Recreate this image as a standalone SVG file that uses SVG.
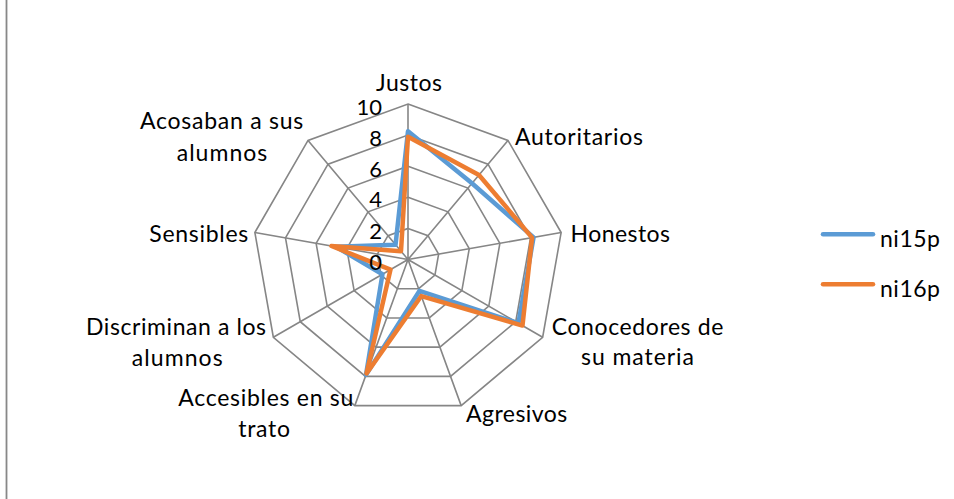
<svg xmlns="http://www.w3.org/2000/svg" xmlns:xlink="http://www.w3.org/1999/xlink" width="954" height="499" viewBox="0 0 954 499">
<style>
  .lbl { font-family: Lato, "Liberation Sans", sans-serif; font-size: 23px; fill: #000; }
  .num { font-family: Lato, "Liberation Sans", sans-serif; font-size: 22px; fill: #000; text-anchor: end; }
  .grid { fill: none; stroke: #868686; stroke-width: 1.6; vector-effect: non-scaling-stroke; }
  .s1 { fill: none; stroke: #5B9BD5; stroke-width: 4.5; stroke-linejoin: round; stroke-linecap: round; }
  .s2 { fill: none; stroke: #ED7D31; stroke-width: 4.5; stroke-linejoin: round; stroke-linecap: round; }
</style>
<defs>
  <polygon id="ring" class="grid" points="0,-155.5 99.96,-119.11 153.14,-27 134.66,77.75 53.18,146.12 -53.18,146.12 -134.66,77.75 -153.14,-27 -99.96,-119.11"/>
</defs>
<rect x="0" y="0" width="954" height="499" fill="#fff"/>
<line x1="6.5" y1="0" x2="6.5" y2="499" stroke="#888" stroke-width="1.8"/>

<g id="grid" transform="translate(408,259.5)">
  <use xlink:href="#ring"/>
  <use xlink:href="#ring" transform="scale(0.8)"/>
  <use xlink:href="#ring" transform="scale(0.6)"/>
  <use xlink:href="#ring" transform="scale(0.4)"/>
  <use xlink:href="#ring" transform="scale(0.2)"/>
  <path class="grid" d="M0,0 L0,-155.5 M0,0 L99.96,-119.11 M0,0 L153.14,-27 M0,0 L134.66,77.75 M0,0 L53.18,146.12 M0,0 L-53.18,146.12 M0,0 L-134.66,77.75 M0,0 L-153.14,-27 M0,0 L-99.96,-119.11"/>
</g>

<g id="connectors" transform="translate(408,259.5)">
  <polygon id="ni15p" class="s1" points="0,-128.3 63.96,-76.22 125.56,-22.13 110.42,63.75 11.42,31.39 -42,115.4 -25.55,14.75 -71.99,-12.69 -12.47,-14.86"/>
  <polygon id="ni16p" class="s2" points="0,-122.8 70.97,-84.57 124.08,-21.87 114.49,66.1 13.3,36.55 -41.48,113.98 -17.49,10.1 -76.57,-13.5 -7,-8.35"/>
</g>

<g id="scale">
  <text class="num" x="382" y="115">10</text>
  <text class="num" x="382" y="145.5">8</text>
  <text class="num" x="382" y="176.5">6</text>
  <text class="num" x="382" y="207">4</text>
  <text class="num" x="382" y="238.5">2</text>
  <text class="num" x="382" y="270">0</text>
</g>

<g id="axis-justos"><text class="lbl" x="376" y="90.5" textLength="66" lengthAdjust="spacing">Justos</text></g>
<g id="axis-autoritarios"><text class="lbl" x="515" y="145" textLength="128" lengthAdjust="spacing">Autoritarios</text></g>
<g id="axis-honestos"><text class="lbl" x="570.5" y="241.7" textLength="99.5" lengthAdjust="spacing">Honestos</text></g>
<g id="axis-conocedores">
  <text class="lbl" x="551.7" y="335" textLength="171.6" lengthAdjust="spacing">Conocedores de</text>
  <text class="lbl" x="581" y="365" textLength="113" lengthAdjust="spacing">su materia</text>
</g>
<g id="axis-agresivos"><text class="lbl" x="466" y="421.7" textLength="101.3" lengthAdjust="spacing">Agresivos</text></g>
<g id="axis-accesibles">
  <text class="lbl" x="178.3" y="406" textLength="175" lengthAdjust="spacing">Accesibles en su</text>
  <text class="lbl" x="238.3" y="436.7" textLength="51.7" lengthAdjust="spacing">trato</text>
</g>
<g id="axis-discriminan">
  <text class="lbl" x="86" y="335" textLength="180" lengthAdjust="spacing">Discriminan a los</text>
  <text class="lbl" x="131.7" y="365.7" textLength="91" lengthAdjust="spacing">alumnos</text>
</g>
<g id="axis-sensibles"><text class="lbl" x="149.3" y="241.7" textLength="99" lengthAdjust="spacing">Sensibles</text></g>
<g id="axis-acosaban">
  <text class="lbl" x="140" y="129.3" textLength="163.3" lengthAdjust="spacing">Acosaban a sus</text>
  <text class="lbl" x="176.7" y="160.7" textLength="90.6" lengthAdjust="spacing">alumnos</text>
</g>

<g id="legend">
  <g id="legend-ni15p">
    <line class="s1" x1="823" y1="234.3" x2="873" y2="234.3"/>
    <text class="lbl" x="880" y="247" textLength="60" lengthAdjust="spacing">ni15p</text>
  </g>
  <g id="legend-ni16p">
    <line class="s2" x1="823" y1="284.3" x2="873" y2="284.3"/>
    <text class="lbl" x="880" y="297" textLength="60" lengthAdjust="spacing">ni16p</text>
  </g>
</g>
</svg>
